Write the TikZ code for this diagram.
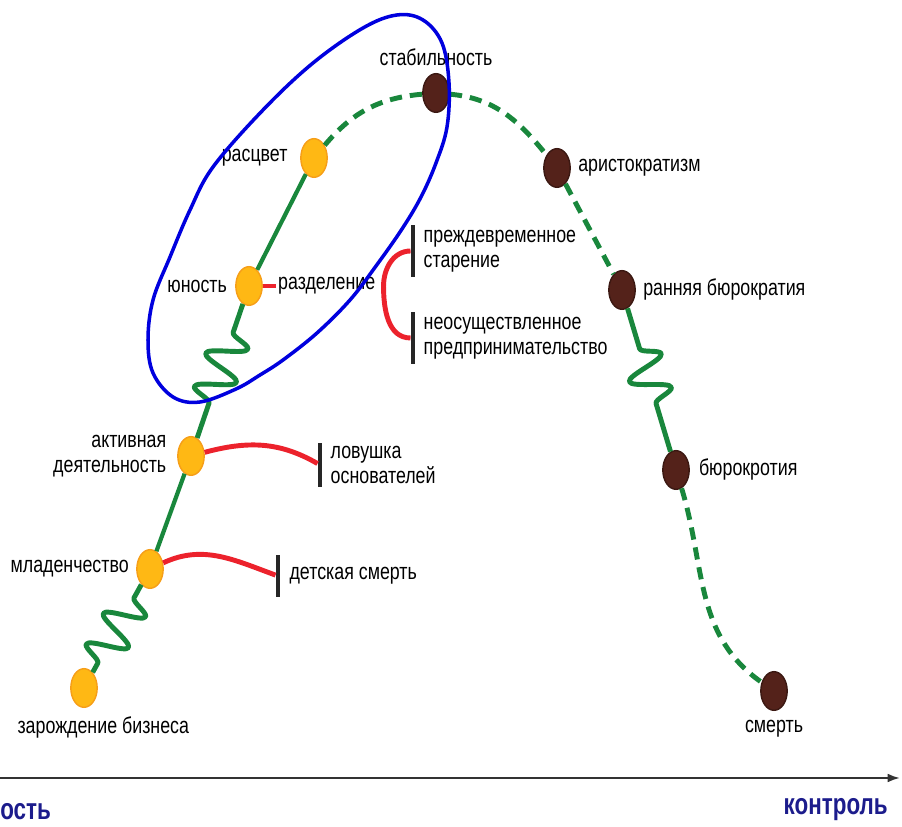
\documentclass[tikz,border=0pt]{standalone}
\usepackage{fontspec}
\newfontfamily\lblfont[FakeStretch=0.78]{Liberation Sans}
\newfontfamily\axfont[FakeStretch=0.75]{Liberation Sans}
\usetikzlibrary{arrows.meta,positioning,shapes.geometric,decorations.pathmorphing}
\definecolor{lifegreen}{RGB}{25,135,60}
\definecolor{dotorange}{RGB}{255,184,20}
\definecolor{dotedge}{RGB}{246,158,24}
\definecolor{dotbrown}{RGB}{84,34,26}
\definecolor{trapred}{RGB}{236,34,44}
\definecolor{ovalblue}{RGB}{0,0,222}
\definecolor{axisblue}{RGB}{28,28,140}
\tikzset{>=Stealth,
  young/.style={ellipse,draw=dotedge,fill=dotorange,line width=0.8pt,minimum width=15pt,minimum height=22pt,inner sep=0pt},
  old/.style={young,draw=dotbrown!70!black,fill=dotbrown},
  lbl/.style={font=\lblfont\fontsize{13}{14}\selectfont,inner sep=1pt},
  axlbl/.style={font=\axfont\bfseries\fontsize{17}{18}\selectfont,text=axisblue,inner sep=0pt},
  life/.style={draw=lifegreen,line width=2.4pt,line join=round},
  lifedash/.style={life,line width=2.8pt,dash pattern=on 7pt off 4.5pt},
  spring/.style 2 args={line width=2.8pt,decorate,decoration={snake,segment length=20pt,amplitude=11pt,pre length=#1,post length=#2}},
  trap/.style={draw=trapred,line width=2.8pt},
  stopbar/.style={fill=black!85,minimum width=2.4pt,inner sep=0pt}}
\begin{document}
\begin{tikzpicture}[x=0.02cm,y=0.02cm]
  \useasboundingbox (0,0) rectangle (902,827);
  % growth
  \node[young] (birth) at (84,139) {};
  \node[young] (infancy) at (150,258) {};
  \node[young] (gogo) at (191,371) {};
  \node[young] (youth) at (249,541) {};
  \node[young] (prime) at (314,669) {};
  % aging
  \node[old] (stable) at (436,734) {};
  \node[old] (aristo) at (557,659) {};
  \node[old] (earlybur) at (622,537) {};
  \node[old] (bur) at (676,357) {};
  \node[old] (death) at (774,136) {};

  \node[lbl,below right=4pt and -39pt of birth.south] (lbirth) {зарождение бизнеса};
  \node[lbl,left=3pt of infancy] (linfancy) {младенчество};
  \node[lbl,left=5pt of gogo,align=right] (lgogo) {активная\\деятельность};
  \node[lbl,left=3.5pt of youth] (lyouth) {юность};
  \node[lbl,left=6pt of prime] (lprime) {расцвет};
  \node[lbl,above=3pt of stable] (lstable) {стабильность};
  \node[lbl,right=3pt of aristo] (laristo) {аристократизм};
  \node[lbl,right=3pt of earlybur] (learlybur) {ранняя бюрократия};
  \node[lbl,right=4pt of bur] (lbur) {бюрокротия};
  \node[lbl,below=4pt of death] (ldeath) {смерть};

  % traps
  \node[stopbar,minimum height=24pt] (bar1) at (278,251) {};
  \node[lbl,right=4pt of bar1] (lkid) {детская смерть};
  \node[stopbar,minimum height=25pt] (bar2) at (320,362) {};
  \node[lbl,right=3.5pt of bar2,align=left] (lfounder) {ловушка\\основателей};
  \node[lbl,right=7.5pt of youth] (lsplit) {разделение};
  \coordinate[right=3.5pt of lsplit] (fork);
  \node[stopbar,minimum height=30pt] (bar3) at (413,576) {};
  \node[lbl,right=3.5pt of bar3,align=left] (laging) {преждевременное\\старение};
  \node[stopbar,minimum height=30pt] (bar4) at (413,489) {};
  \node[lbl,right=3.5pt of bar4,align=left] (lunreal) {неосуществленное\\предпринимательство};

  \draw[trap] (infancy) to[out=25,in=160] (bar1);
  \draw[trap] (gogo) to[out=15,in=150] (bar2);
  \draw[trap] (youth) -- (lsplit);
  \draw[trap] (bar3) to[out=180,in=90] (fork) to[out=-90,in=180] (bar4);

  \draw[life,spring={6pt}{5pt}] (birth) -- (infancy);
  \draw[life] (infancy) -- (gogo);
  \draw[life,spring={21pt}{13pt}] (gogo) -- (youth);
  \draw[life] (youth) -- (prime);
  \draw[lifedash] (prime) to[out=50,in=185] (stable) to[out=-5,in=129] (aristo) -- (earlybur);
  \draw[life,spring={24pt}{21pt}] (earlybur) -- (bur);
  \draw[lifedash] (bur) to[out=-73,in=145] (death);

  % axis
  \coordinate (axl) at (0,49);
  \coordinate (axr) at (900,49);
  \draw[black!80,line width=1.2pt,-{Latex[length=7pt,width=5pt]}] (axl) -- (axr);
  \node[axlbl,anchor=west] (lflex) at (0,15) {ость};
  \node[axlbl,anchor=east] (lctrl) at (888,17) {контроль};

  \draw[ovalblue,line width=2pt] plot[smooth cycle,tension=0.6] coordinates {(449,744) (447,700) (436,664) (421,630) (402,598) (376,561) (350,527) (317,494) (283,467) (260,452) (236,438) (200,425) (173,430) (153,454) (148,487) (153,527) (170,570) (190,617) (213,660) (263,717) (313,764) (363,799) (397,812) (423,807) (442,784)};
\end{tikzpicture}
\end{document}
